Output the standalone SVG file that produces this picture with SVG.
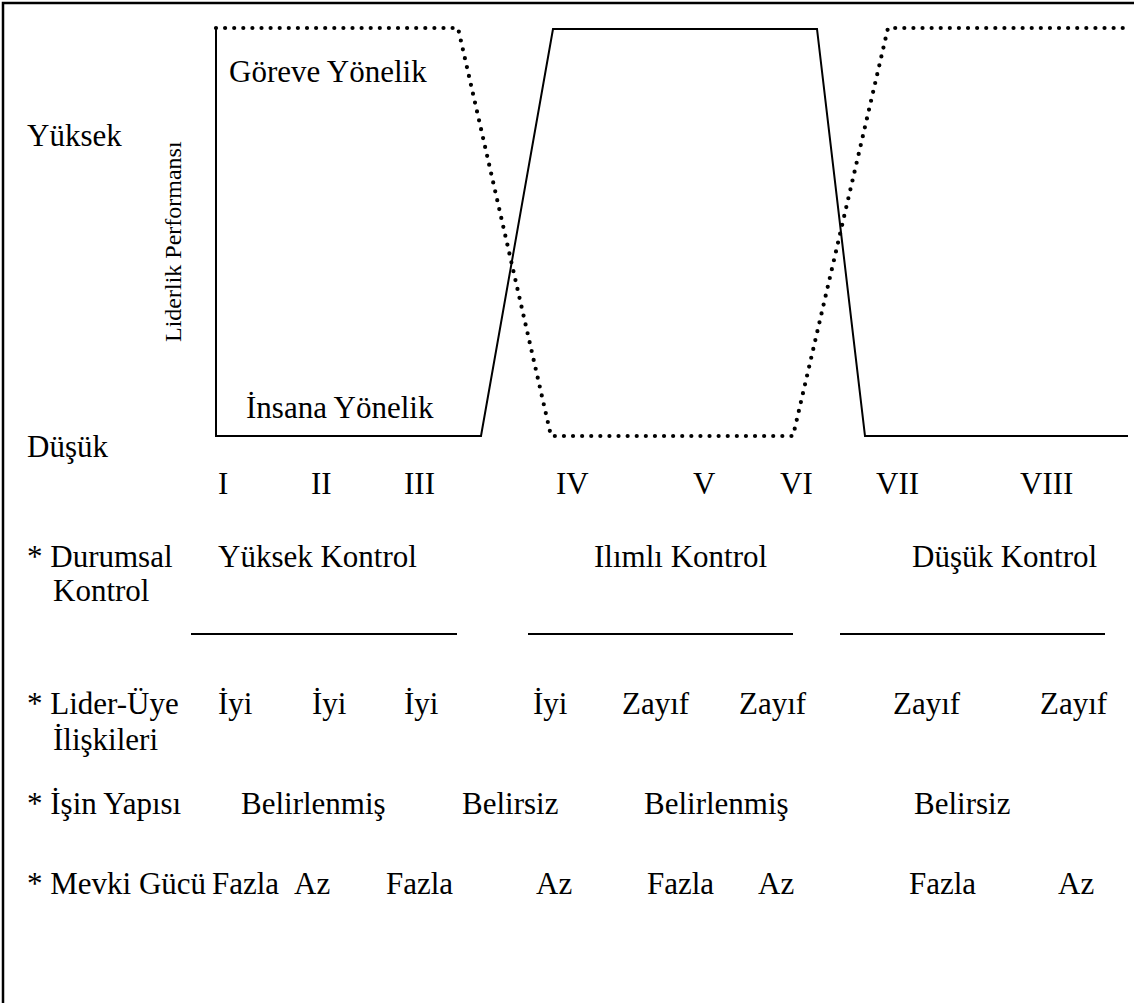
<svg xmlns="http://www.w3.org/2000/svg" width="1134" height="1003" viewBox="0 0 1134 1003">
  <style>
    text { font-family: "Liberation Serif", "Times New Roman", serif; font-size: 31px; fill: #000; }
    .solid { fill: none; stroke: #000; stroke-width: 2; stroke-linejoin: miter; }
    .dotted { fill: none; stroke: #000; stroke-width: 4.2; stroke-linecap: round; stroke-dasharray: 0 9.1; }
    .rule { stroke: #000; stroke-width: 2; }
    .frame { fill: none; stroke: #000; stroke-width: 2.5; }
  </style>

  <rect width="1134" height="1003" fill="#fff"/>

  <!-- page frame (left and top edges) -->
  <g id="frame">
    <path class="frame" d="M3 1003 V3 H1134"/>
  </g>

  <!-- performance curves -->
  <g id="connectors">
    <!-- task-oriented leader (dotted) -->
    <path id="task-curve" class="dotted" d="M216 28 H458 L551 436 H793 L888 28 H1130"/>
    <!-- relationship-oriented leader (solid) -->
    <path id="people-curve" class="solid" d="M216 28 V436 H481 L553 29 H817 L865 436 H1128"/>
  </g>

  <!-- axis labels -->
  <g id="axis">
    <text x="27" y="146">Yüksek</text>
    <text x="27" y="457">Düşük</text>
    <text transform="translate(181 342) rotate(-90)" style="font-size:24px">Liderlik Performansı</text>
  </g>

  <!-- curve labels -->
  <g id="curve-labels">
    <text x="229" y="82">Göreve Yönelik</text>
    <text x="246" y="418">İnsana Yönelik</text>
  </g>

  <!-- octant numerals -->
  <g id="octants">
    <text x="218" y="494">I</text>
    <text x="311" y="494">II</text>
    <text x="404" y="494">III</text>
    <text x="556" y="494">IV</text>
    <text x="693" y="494">V</text>
    <text x="780" y="494">VI</text>
    <text x="876" y="494">VII</text>
    <text x="1020" y="494">VIII</text>
  </g>

  <!-- situational control row -->
  <g id="row-control">
    <text x="27" y="567">* Durumsal</text>
    <text x="53" y="601">Kontrol</text>
    <text x="218" y="567">Yüksek Kontrol</text>
    <text x="594" y="567">Ilımlı Kontrol</text>
    <text x="912" y="567">Düşük Kontrol</text>
    <line class="rule" x1="191" y1="634" x2="457" y2="634"/>
    <line class="rule" x1="528" y1="634" x2="793" y2="634"/>
    <line class="rule" x1="840" y1="634" x2="1105" y2="634"/>
  </g>

  <!-- leader-member relations row -->
  <g id="row-relations">
    <text x="27" y="714">* Lider-Üye</text>
    <text x="53" y="750">İlişkileri</text>
    <text x="218" y="714">İyi</text>
    <text x="312" y="714">İyi</text>
    <text x="404" y="714">İyi</text>
    <text x="533" y="714">İyi</text>
    <text x="622" y="714">Zayıf</text>
    <text x="739" y="714">Zayıf</text>
    <text x="893" y="714">Zayıf</text>
    <text x="1040" y="714">Zayıf</text>
  </g>

  <!-- task structure row -->
  <g id="row-structure">
    <text x="27" y="814">* İşin Yapısı</text>
    <text x="241" y="814">Belirlenmiş</text>
    <text x="462" y="814">Belirsiz</text>
    <text x="644" y="814">Belirlenmiş</text>
    <text x="914" y="814">Belirsiz</text>
  </g>

  <!-- position power row -->
  <g id="row-power">
    <text x="27" y="894">* Mevki Gücü</text>
    <text x="212" y="894">Fazla</text>
    <text x="294" y="894">Az</text>
    <text x="386" y="894">Fazla</text>
    <text x="536" y="894">Az</text>
    <text x="647" y="894">Fazla</text>
    <text x="758" y="894">Az</text>
    <text x="909" y="894">Fazla</text>
    <text x="1058" y="894">Az</text>
  </g>
</svg>
